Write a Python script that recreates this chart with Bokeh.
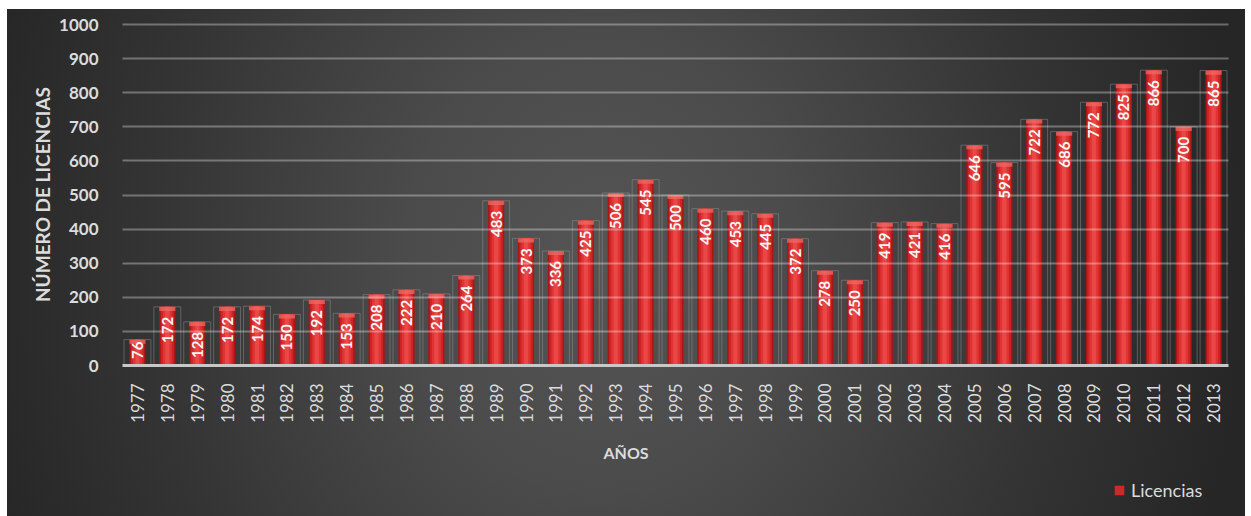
from bokeh.plotting import figure
from bokeh.layouts import column
from bokeh.models import (ColumnDataSource, FactorRange, Range1d, SingleIntervalTicker,
                          Title, Legend, LegendItem)
from bokeh.core.properties import value
from bokeh.embed import file_html
from bokeh.resources import INLINE
import math

# Licencias concedidas por año
years = [str(y) for y in range(1977, 2014)]
licencias = [76, 172, 128, 172, 174, 150, 192, 153, 208, 222, 210, 264, 483, 373, 336,
             425, 506, 545, 500, 460, 453, 445, 372, 278, 250, 419, 421, 416, 646, 595,
             722, 686, 772, 825, 866, 700, 865]
series_name = "Licencias"

FONT = "Lato"
TEXT_COLOR = "#dcdcdc"
BAR_COLOR = "#d02828"

source = ColumnDataSource(dict(
    year=years,
    val=licencias,
    lab=[str(v) for v in licencias],
    cap=[v - 12 for v in licencias],
    # short bars keep their label from spilling below the axis
    off=[2 if v < 100 else 10 for v in licencias],
))

p = figure(
    width=1238, height=468,
    x_range=FactorRange(*years, range_padding=0),
    y_range=Range1d(0, 1003),
    output_backend="svg", toolbar_location=None,
    min_border_left=115, min_border_right=17, min_border_top=14, min_border_bottom=112,
)
p.border_fill_alpha = 0
p.background_fill_alpha = 0
p.outline_line_color = None

# thin frames drawn behind each bar
p.vbar(x="year", top="val", bottom=0, width=0.9, source=source,
       fill_alpha=0, line_color="#9a9a9a", line_alpha=0.45, line_width=1)

# cylinder-like bars: stacked stripes from dark edges to a bright core
p.vbar(x="year", top="val", width=0.54, source=source, fill_color="#a81616", line_color=None)
p.vbar(x="year", top="val", width=0.44, source=source, fill_color="#cc2424", line_color=None)
p.vbar(x="year", top="val", width=0.30, source=source, fill_color="#e03434", line_color=None)
p.vbar(x="year", top="val", width=0.14, source=source, fill_color="#ec4c4c",
       fill_alpha=0.8, line_color=None)
# lighter cap on top of each bar
p.vbar(x="year", top="val", bottom="cap", width=0.54, source=source,
       fill_color="#ec6a64", fill_alpha=0.75, line_color=None)

# value labels inside the bars
p.text(x="year", y="val", text="lab", source=source, angle=math.pi / 2,
       y_offset="off", text_align="right", text_baseline="middle",
       text_color="#f6f6f6", text_font=value(FONT), text_font_size="15px",
       text_font_style="bold")

# axes
p.yaxis.ticker = SingleIntervalTicker(interval=100)
p.yaxis.axis_line_color = None
p.yaxis.major_tick_line_color = None
p.yaxis.minor_tick_line_color = None
p.yaxis.major_label_standoff = 18
p.yaxis.major_label_text_color = TEXT_COLOR
p.yaxis.major_label_text_font = FONT
p.yaxis.major_label_text_font_style = "bold"
p.yaxis.major_label_text_font_size = "17px"
p.yaxis.axis_label = "NÚMERO DE LICENCIAS"
p.yaxis.axis_label_text_color = TEXT_COLOR
p.yaxis.axis_label_text_font = FONT
p.yaxis.axis_label_text_font_style = "bold"
p.yaxis.axis_label_text_font_size = "19px"
p.yaxis.axis_label_standoff = 2

p.xaxis.axis_line_color = "#c8c8c8"
p.xaxis.axis_line_width = 3
p.xaxis.major_tick_line_color = None
p.xaxis.minor_tick_line_color = None
p.xaxis.major_label_orientation = math.pi / 2
p.xaxis.major_label_standoff = 12
p.xaxis.major_label_text_color = TEXT_COLOR
p.xaxis.major_label_text_font = FONT
p.xaxis.major_label_text_font_size = "17px"

p.xgrid.grid_line_color = None
p.ygrid.grid_line_color = "#ffffff"
p.ygrid.grid_line_alpha = 0.32
p.ygrid.grid_line_width = 2
p.ygrid.level = "overlay"

# x-axis title, stacked under the axis
p.add_layout(Title(text="AÑOS", align="left", offset=481, standoff=30,
                   text_color=TEXT_COLOR, text_font=FONT, text_font_style="bold",
                   text_font_size="16px"), "below")

# legend strip under the chart
leg = figure(width=1238, height=39, x_range=Range1d(0, 1), y_range=Range1d(0, 1),
             x_axis_type=None, y_axis_type=None,
             output_backend="svg", toolbar_location=None,
             min_border_left=0, min_border_right=0, min_border_top=0, min_border_bottom=0)
leg.border_fill_alpha = 0
leg.background_fill_alpha = 0
leg.outline_line_color = None
leg.grid.grid_line_color = None
# zero-height bar: only supplies the swatch style for the legend
swatch = leg.vbar(x=[0], top=[0], bottom=[0], width=0.5,
                  fill_color=BAR_COLOR, line_color=None)
legend = Legend(items=[LegendItem(label=series_name, renderers=[swatch])],
                location=(991, 15), orientation="horizontal",
                glyph_width=12, glyph_height=12, label_standoff=6,
                padding=0, margin=0, border_line_alpha=0, background_fill_alpha=0,
                label_text_color=TEXT_COLOR, label_text_font=FONT,
                label_text_font_size="18px")
leg.add_layout(legend, "center")

root = column(p, leg, spacing=0, margin=(9, 0, 0, 7),
              styles={"background": "radial-gradient(ellipse 52% 150% at 48% 50%, "
                                    "#555555 0%, #4b4b4b 30%, #343434 70%, #262626 100%)"})

open("out.html", "w").write(file_html(root, INLINE))
